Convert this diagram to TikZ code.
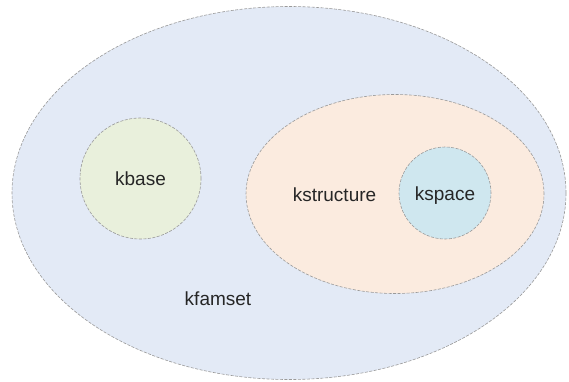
\documentclass[tikz,border=0pt]{standalone}
\usepackage{fontspec}
\setmainfont{Liberation Sans}
\usetikzlibrary{shapes.geometric}
\definecolor{famfill}{HTML}{E3EAF6}
\definecolor{basefill}{HTML}{E9F0DC}
\definecolor{structfill}{HTML}{FBEBDF}
\definecolor{spacefill}{HTML}{CFE7EF}
\definecolor{edgegray}{HTML}{9A9A9A}
\tikzset{
  setshape/.style={ellipse, draw=edgegray, line width=0.6pt, dash pattern=on 3pt off 1.5pt, inner sep=0pt},
  lbl/.style={font=\fontsize{19}{22}\selectfont, text=black!85, inner sep=0pt, anchor=base}
}
\begin{document}
\begin{tikzpicture}[x=1pt,y=-1pt]
\useasboundingbox[fill=white] (0,0) rectangle (569,381);
\node[setshape, fill=famfill, minimum width=554pt, minimum height=373pt] (fam) at (289,193) {};
\node[setshape, fill=basefill, minimum width=121pt, minimum height=121pt] (base) at (140.5,178.5) {};
\node[setshape, fill=structfill, minimum width=298pt, minimum height=199pt] (struct) at (395,194) {};
\node[setshape, fill=spacefill, minimum width=92pt, minimum height=92pt] (space) at (445,193) {};
\node[lbl] (tbase) at (140.5,185.5) {kbase};
\node[lbl] (tstruct) at (334.5,201) {kstructure};
\node[lbl] (tspace) at (445,200.5) {kspace};
\node[lbl] (tfam) at (218,305.5) {kfamset};
\end{tikzpicture}
\end{document}
